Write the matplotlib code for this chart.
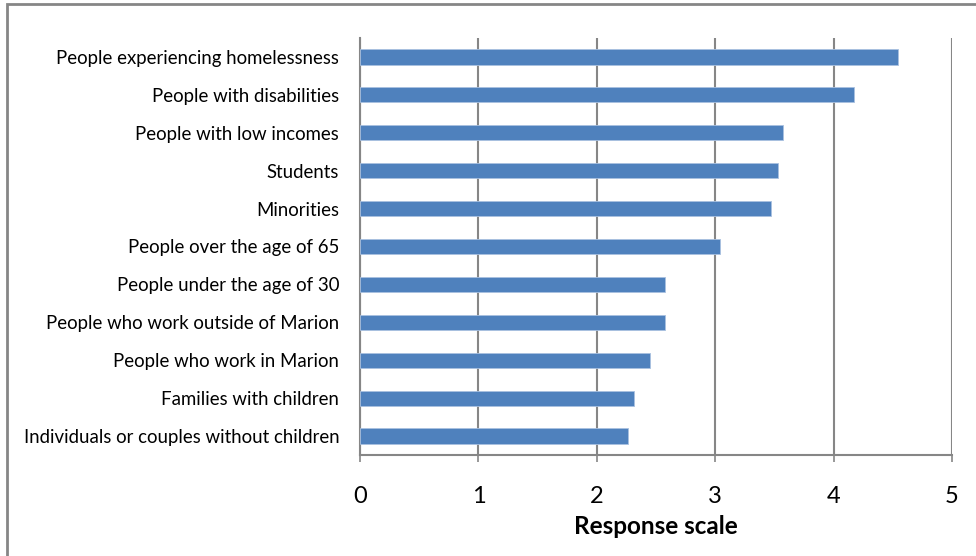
import matplotlib.pyplot as plt
from matplotlib.patches import Rectangle

# categories listed bottom to top
groups = [
    'Individuals or couples without children',
    'Families with children',
    'People who work in Marion',
    'People who work outside of Marion',
    'People under the age of 30',
    'People over the age of 65',
    'Minorities',
    'Students',
    'People with low incomes',
    'People with disabilities',
    'People experiencing homelessness',
]
scores = [2.26, 2.31, 2.45, 2.58, 2.58, 3.04, 3.47, 3.53, 3.57, 4.17, 4.54]
xticks = [0, 1, 2, 3, 4, 5]

plt.rcParams['font.family'] = ['Lato', 'DejaVu Sans']

fig = plt.figure(figsize=(9.76, 5.56), dpi=100)
ax = fig.add_axes([360 / 976, 1 - 455 / 556, 592 / 976, 417 / 556])

ax.barh(range(len(groups)), scores, height=0.4, color='#4f81bd',
        edgecolor='#a9c1e0', linewidth=0.6, zorder=3)

ax.set_xlim(0, 5)
ax.set_ylim(-0.5, len(groups) - 0.5)
ax.set_xticks(xticks)
ax.set_xticklabels([str(t) for t in xticks], fontsize=17)
ax.set_yticks(range(len(groups)))
ax.set_yticklabels(groups, fontsize=13.4)
ax.tick_params(axis='y', length=0, pad=15)
ax.tick_params(axis='x', length=5, width=1.2, color='#868686', pad=17)

ax.grid(axis='x', color='#868686', linewidth=1.5, zorder=0)
for side in ['top', 'right']:
    ax.spines[side].set_visible(False)
for side in ['left', 'bottom']:
    ax.spines[side].set_color('#868686')
    ax.spines[side].set_linewidth(1.5)

ax.set_xlabel('Response scale', fontsize=17.5, fontweight='bold', labelpad=6)

# outer chart frame
fig.patches.append(Rectangle((7 / 976, -0.05), 1.2, 1 - 4 / 556 + 0.05,
                             transform=fig.transFigure, fill=False,
                             edgecolor='#868686', linewidth=2))

fig.savefig('out.png', dpi=100)
